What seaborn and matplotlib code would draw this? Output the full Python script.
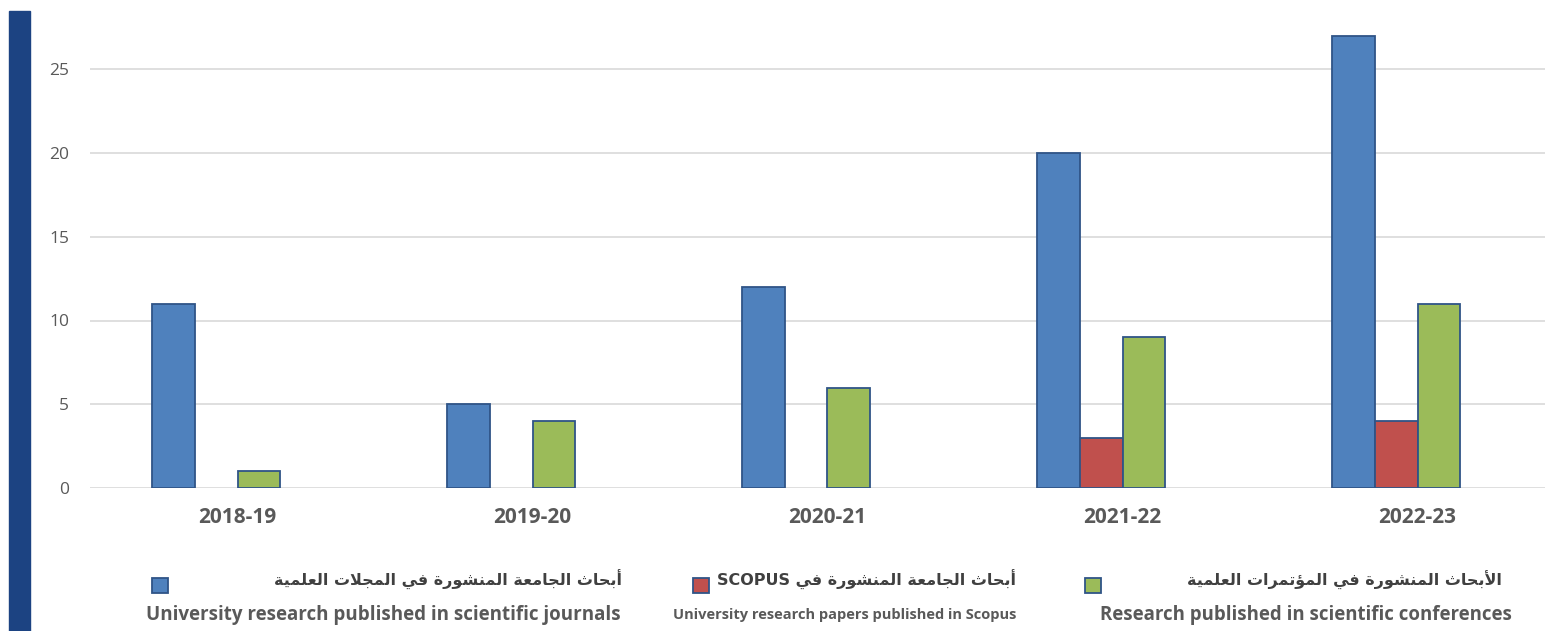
import pandas as pd
import matplotlib.pyplot as plt
from matplotlib.patches import Rectangle
import seaborn as sns

# values
years = ["2018-19", "2019-20", "2020-21", "2021-22", "2022-23"]
journals = [11, 5, 12, 20, 27]
scopus = [None, None, None, 3, 4]
conferences = [1, 4, 6, 9, 11]

series_ar = [
    "أبحاث الجامعة المنشورة في المجلات العلمية",
    "أبحاث الجامعة المنشورة في SCOPUS",
    "الأبحاث المنشورة في المؤتمرات العلمية",
]
series_en = [
    "University research published in scientific journals",
    "University research papers published in Scopus",
    "Research published in scientific conferences",
]
colors = ["#4F81BD", "#C0504D", "#9BBB59"]
edge = "#2F5487"
text_gray = "#595959"

# --- tiny arabic shaper (matplotlib does no shaping / bidi) ---
FOUR = {"ئ": 0xFE89, "ب": 0xFE8F, "ت": 0xFE95, "ث": 0xFE99, "ج": 0xFE9D, "ح": 0xFEA1,
        "خ": 0xFEA5, "س": 0xFEB1, "ش": 0xFEB5, "ص": 0xFEB9, "ض": 0xFEBD, "ط": 0xFEC1,
        "ظ": 0xFEC5, "ع": 0xFEC9, "غ": 0xFECD, "ف": 0xFED1, "ق": 0xFED5, "ك": 0xFED9,
        "ل": 0xFEDD, "م": 0xFEE1, "ن": 0xFEE5, "ه": 0xFEE9, "ي": 0xFEF1}
TWO = {"آ": 0xFE81, "أ": 0xFE83, "ؤ": 0xFE85, "إ": 0xFE87, "ا": 0xFE8D, "ة": 0xFE93,
       "د": 0xFEA9, "ذ": 0xFEAB, "ر": 0xFEAD, "ز": 0xFEAF, "و": 0xFEED, "ى": 0xFEEF}
LAM_ALEF = {"آ": 0xFEF5, "أ": 0xFEF7, "إ": 0xFEF9, "ا": 0xFEFB}


def shape_word(word):
    # merge lam + alef into ligature tokens
    toks = []
    i = 0
    while i < len(word):
        if word[i] == "ل" and i + 1 < len(word) and word[i + 1] in LAM_ALEF:
            toks.append(("LA", word[i + 1]))
            i += 2
        else:
            toks.append(("CH", word[i]))
            i += 1
    out = []
    for k, (kind, ch) in enumerate(toks):
        prev = toks[k - 1] if k > 0 else None
        nxt = toks[k + 1] if k + 1 < len(toks) else None
        join_prev = prev is not None and prev[0] == "CH" and prev[1] in FOUR
        if kind == "LA":
            out.append(chr(LAM_ALEF[ch] + (1 if join_prev else 0)))
            continue
        if ch in FOUR:
            join_next = nxt is not None and (nxt[0] == "LA" or nxt[1] in FOUR or nxt[1] in TWO)
            base = FOUR[ch]
            if join_prev and join_next:
                out.append(chr(base + 3))
            elif join_prev:
                out.append(chr(base + 1))
            elif join_next:
                out.append(chr(base + 2))
            else:
                out.append(chr(base))
        elif ch in TWO:
            out.append(chr(TWO[ch] + (1 if join_prev else 0)))
        else:
            out.append(ch)
    return "".join(out)


def rtl(text):
    words = text.split(" ")
    vis = []
    for w in reversed(words):
        if any(c in FOUR or c in TWO for c in w):
            vis.append(shape_word(w)[::-1])
        else:
            vis.append(w)
    return " ".join(vis)


rows = []
for i, y in enumerate(years):
    for name, vals in zip(series_en, [journals, scopus, conferences]):
        if vals[i] is not None:
            rows.append({"year": y, "series": name, "count": vals[i]})
df = pd.DataFrame(rows)

sns.set_theme(style="white")
plt.rcParams["font.family"] = ["Open Sans", "DejaVu Sans"]

fig = plt.figure(figsize=(15.45, 6.31), dpi=100)
ax = fig.add_axes([90 / 1545, 143 / 631, 1475 / 1545, 469 / 631])

# 4th (empty) slot keeps the excel-like spacing inside each group
hue_order = series_en + ["(empty)"]
sns.barplot(data=df, x="year", y="count", hue="series", order=years,
            hue_order=hue_order, palette=colors + ["#FFFFFF"], width=0.583,
            edgecolor=edge, linewidth=1.3, legend=False, ax=ax, saturation=1)

ax.set_xlim(-0.5, 4.5)
ax.set_ylim(0, 28)
ax.set_yticks([0, 5, 10, 15, 20, 25])
ax.yaxis.grid(True, color="#D9D9D9", linewidth=1.2)
ax.set_axisbelow(True)
for s in ax.spines.values():
    s.set_visible(False)
ax.set_xlabel("")
ax.set_ylabel("")
ax.tick_params(axis="y", length=0, pad=15, labelsize=12.5, labelcolor=text_gray)
ax.tick_params(axis="x", length=0, pad=14, labelsize=15, labelcolor=text_gray)
for lab in ax.get_xticklabels():
    lab.set_fontweight("bold")

# navy band at the left edge
fig.patches.append(Rectangle((9 / 1545, 0), 21 / 1545, 620 / 631,
                             transform=fig.transFigure, color="#1C4382", zorder=0))

# custom two-language legend
ar_right = [622, 1016, 1502]
en_right = [621, 1016, 1512]
sq_left = [152, 693, 1085]
en_size = [13.5, 10.5, 13.4]
for i in range(3):
    fig.patches.append(Rectangle((sq_left[i] / 1545, 1 - 593 / 631), 16 / 1545, 15 / 631,
                                 transform=fig.transFigure, facecolor=colors[i],
                                 edgecolor=edge, linewidth=1.3))
    fig.text(ar_right[i] / 1545, 1 - 580 / 631, rtl(series_ar[i]), ha="right", va="center",
             fontsize=11.5, fontweight="bold", color="#404040",
             family=["DejaVu Sans"])
    fig.text(en_right[i] / 1545, 1 - 615 / 631, series_en[i], ha="right", va="center",
             fontsize=en_size[i], fontweight="bold", color=text_gray)

fig.savefig("out.png", dpi=100)
